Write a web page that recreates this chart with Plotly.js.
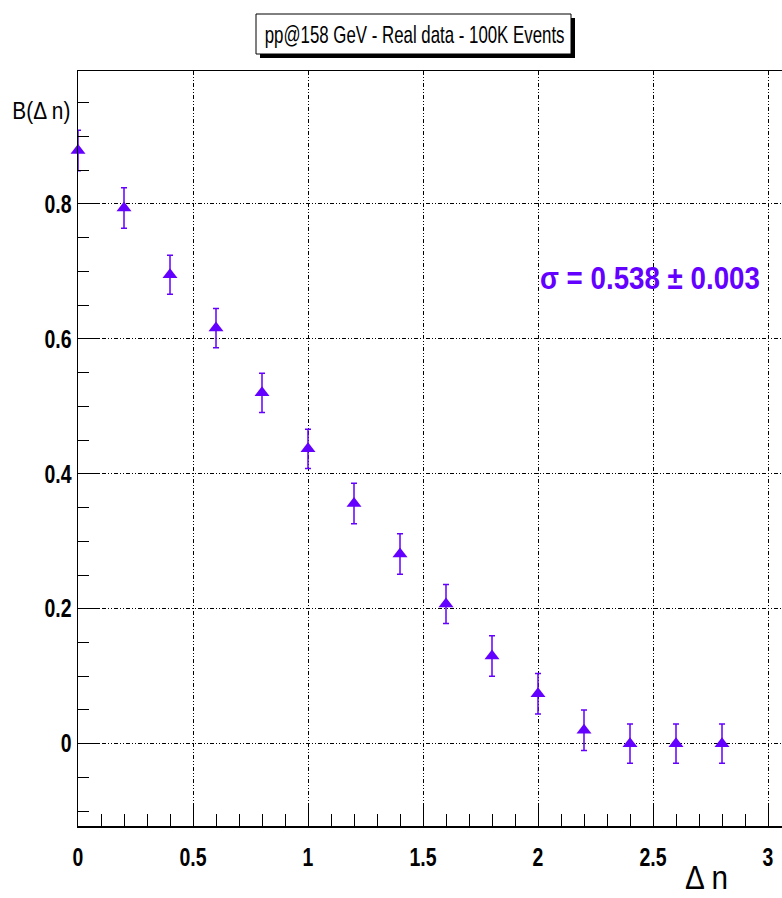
<!DOCTYPE html>
<html>
<head>
<meta charset="utf-8">
<script src="https://cdn.plot.ly/plotly-3.0.1.min.js"></script>
<style>
  html, body { margin: 0; padding: 0; background: #ffffff; }
  #chart { width: 782px; height: 898px; }
</style>
</head>
<body>
<div id="chart"></div>
<script>
// Balance function B(Δn) for pp@158 GeV
const deltaN = [0.0, 0.2, 0.4, 0.6, 0.8, 1.0, 1.2, 1.4, 1.6, 1.8, 2.0, 2.2, 2.4, 2.6, 2.8];
const balance = [0.879, 0.794, 0.695, 0.616, 0.520, 0.437, 0.356, 0.281, 0.207, 0.130, 0.074, 0.020, 0.000, 0.000, 0.000];
const balanceErr = [0.030, 0.030, 0.029, 0.029, 0.029, 0.029, 0.030, 0.030, 0.029, 0.030, 0.030, 0.030, 0.029, 0.029, 0.029];

const xTickVals = [0, 0.5, 1, 1.5, 2, 2.5, 3];
const yTickVals = [0, 0.2, 0.4, 0.6, 0.8];

const titleText = 'pp@158 GeV - Real data - 100K Events';
const xTitleText = 'Δ n';
const yTitleText = 'B(Δ n)';
const sigmaText = 'σ = 0.538 ± 0.003';

const W = 782, H = 898;
const M = { l: 78, r: 0, t: 71, b: 72 };
const plotW = W - M.l - M.r, plotH = H - M.t - M.b;
// pixel -> paper helpers for decorations placed around the frame
const px = x => (x - M.l) / plotW;
const py = y => (H - M.b - y) / plotH;

const FONT = '"Liberation Sans", Arial, Helvetica, sans-serif';
const PURPLE = '#6400ff';
const GRID_DASH = '4px,2px,1px,2px,1px,2px';

const trace = {
  x: deltaN,
  y: balance,
  type: 'scatter',
  mode: 'markers',
  marker: { symbol: 'triangle-up', size: 13, color: PURPLE },
  error_y: { type: 'data', array: balanceErr, visible: true, color: PURPLE, thickness: 1.5, width: 3 },
  cliponaxis: false,
  showlegend: false,
  hoverinfo: 'x+y'
};

const layout = {
  width: W,
  height: H,
  margin: M,
  paper_bgcolor: '#ffffff',
  plot_bgcolor: '#ffffff',
  font: { family: FONT, color: '#000000' },
  xaxis: {
    range: [0, (W - M.l) / 230.0],
    tickmode: 'array',
    tickvals: xTickVals,
    ticks: 'inside',
    ticklen: 23,
    tickwidth: 1,
    tickcolor: '#000000',
    minor: { dtick: 0.1, tick0: 0, ticks: 'inside', ticklen: 12, tickwidth: 1, tickcolor: '#000000', showgrid: false },
    showgrid: true,
    gridcolor: '#000000',
    gridwidth: 1,
    griddash: GRID_DASH,
    zeroline: false,
    showline: true,
    linecolor: '#000000',
    linewidth: 1.5,
    mirror: true,
    tickfont: { family: FONT, size: 25, color: '#000000', weight: 'bold' },
    ticklabelstandoff: 8
  },
  yaxis: {
    range: [-0.122, 0.997],
    tickmode: 'array',
    tickvals: yTickVals,
    ticks: 'inside',
    ticklen: 22,
    tickwidth: 1,
    tickcolor: '#000000',
    minor: { dtick: 0.05, tick0: 0, ticks: 'inside', ticklen: 11, tickwidth: 1, tickcolor: '#000000', showgrid: false },
    showgrid: true,
    gridcolor: '#000000',
    gridwidth: 1,
    griddash: GRID_DASH,
    zeroline: false,
    showline: true,
    linecolor: '#000000',
    linewidth: 1.5,
    mirror: false,
    tickfont: { family: FONT, size: 25, color: '#000000', weight: 'bold' }
  },
  shapes: [
    // title box shadow
    { type: 'rect', xref: 'paper', yref: 'paper', x0: px(260), x1: px(575), y0: py(58), y1: py(18),
      fillcolor: '#000000', line: { width: 0 }, layer: 'above' },
    // title box
    { type: 'rect', xref: 'paper', yref: 'paper', x0: px(256), x1: px(571), y0: py(54), y1: py(14),
      fillcolor: '#ffffff', line: { color: '#000000', width: 1 }, layer: 'above' }
  ],
  annotations: [
    { text: titleText, xref: 'paper', yref: 'paper', x: px(414), y: py(34), xanchor: 'center', yanchor: 'middle',
      showarrow: false, font: { family: FONT, size: 24, color: '#000000' } },
    { text: yTitleText, xref: 'paper', yref: 'paper', x: px(41), y: py(110), xanchor: 'center', yanchor: 'middle',
      showarrow: false, font: { family: FONT, size: 24, color: '#000000' } },
    { text: xTitleText, xref: 'paper', yref: 'paper', x: px(706), y: py(877), xanchor: 'center', yanchor: 'middle',
      showarrow: false, font: { family: FONT, size: 34, color: '#000000' } },
    { text: sigmaText, xref: 'paper', yref: 'paper', x: px(650), y: py(278), xanchor: 'center', yanchor: 'middle',
      showarrow: false, font: { family: FONT, size: 32, color: PURPLE, weight: 'bold' } }
  ]
};

// Narrow, condensed lettering for tick labels
function condense(el, factor) {
  const len = el.getComputedTextLength();
  if (!len) return;
  el.setAttribute('textLength', (len * factor).toFixed(1));
  el.setAttribute('lengthAdjust', 'spacingAndGlyphs');
}

// Squeeze an annotation text about its own centre to a given width
function squeezeTo(el, target) {
  const b = el.getBBox();
  if (!b.width) return;
  const k = target / b.width;
  const cx = b.x + b.width / 2;
  const prev = el.getAttribute('transform') || '';
  el.setAttribute('transform', `${prev} translate(${cx},0) scale(${k},1) translate(${-cx},0)`.trim());
}

// target widths (px) of the annotation texts, in the order they are listed
const annotationWidths = [300, 58, 43, 220];

Plotly.newPlot('chart', [trace], layout, { staticPlot: true, displayModeBar: false }).then(gd => {
  gd.querySelectorAll('.xtick text, .ytick text').forEach(el => condense(el, 0.78));
  gd.querySelectorAll('g.annotation').forEach(g => {
    const idx = +g.getAttribute('data-index');
    const el = g.querySelector('text.annotation-text');
    if (el) squeezeTo(el, annotationWidths[idx]);
  });
});
</script>
</body>
</html>
